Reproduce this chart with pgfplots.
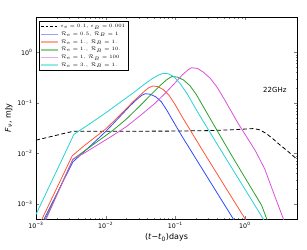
\documentclass[border=0pt]{standalone}
\usepackage{fontspec}
\setmainfont{DejaVu Sans}
\usepackage{pgfplots}
\pgfplotsset{compat=1.18}
\definecolor{cblue}{RGB}{45,75,250}
\definecolor{cred}{RGB}{255,85,55}
\definecolor{cgreen}{RGB}{40,160,40}
\definecolor{cmag}{RGB}{220,80,220}
\definecolor{ccyan}{RGB}{40,210,210}
\begin{document}
\begin{tikzpicture}
\useasboundingbox (-36pt,-30pt) rectangle (271pt,219pt);
\begin{axis}[
  at={(0pt,0pt)}, anchor=south west, scale only axis,
  width=261pt, height=202pt,
  xmode=log, ymode=log,
  xmin=1e-3, xmax=5.6, ymin=5e-4, ymax=5,
  xtick={1e-3,1e-2,1e-1,1},
  xticklabels={10\textsuperscript{−3},10\textsuperscript{−2},10\textsuperscript{−1},10\textsuperscript{0}},
  ytick={1e-3,1e-2,1e-1,1},
  yticklabels={10\textsuperscript{−3},10\textsuperscript{−2},10\textsuperscript{−1},10\textsuperscript{0}},
  tick align=inside, xtick pos=both, ytick pos=both,
  major tick length=3pt, minor tick length=1.5pt,
  ticklabel style={font=\fontsize{6.3}{7}\selectfont},
  axis line style={line width=0.8pt},
  xlabel={(\textit{t}−\textit{t}\textsubscript{0})days},
  ylabel={\textit{F}\textsubscript{\textit{ν}}, mJy},
  label style={font=\fontsize{8}{9}\selectfont},
  xlabel style={yshift=2pt},
  ylabel style={yshift=-2pt},
  legend style={at={(0.0115,0.98)}, anchor=north west, draw=black, line width=0.6pt,
    font=\fontsize{5}{6}\selectfont, inner sep=1pt, row sep=-1.2pt, fill=white},
  legend cell align=left,
  every axis plot/.append style={line width=0.8pt},
]
\addplot[black, dash pattern=on 4pt off 2.5pt, forget plot] coordinates {
(1e-3,1.820e-2) (3.388e-3,2.723e-2) (0.1,2.754e-2) (0.3162,2.818e-2) (0.631,2.917e-2)
(1,3.020e-2) (1.318,3.090e-2) (1.585,2.951e-2) (1.995,2.512e-2) (2.512,1.950e-2)
(3.162,1.479e-2) (3.981,1.148e-2) (5.012,8.71e-3) (5.623,7.586e-3)};
\addplot[cblue, forget plot] coordinates {
(1e-3,2.40e-4) (3.39e-3,6.76e-3) (6.31e-3,1.48e-2) (1e-2,2.69e-2) (1.585e-2,5.248e-2)
(2.239e-2,8.71e-2) (2.818e-2,0.1175) (3.311e-2,0.1413) (3.715e-2,0.1514) (4.365e-2,0.1479)
(5.248e-2,0.1318) (6.31e-2,0.1047) (7.586e-2,7.08e-2) (8.851e-2,4.898e-2) (0.1259,2.138e-2)
(0.3162,2.754e-3) (1,2.138e-4)};
\addplot[cred, forget plot] coordinates {
(1e-3,2.818e-4) (3.311e-3,8.913e-3) (5.012e-3,1.445e-2) (1e-2,3.020e-2) (1.585e-2,5.623e-2)
(2.512e-2,0.1072) (3.548e-2,0.1660) (4.169e-2,0.1995) (4.786e-2,0.2153) (5.623e-2,0.2089)
(6.761e-2,0.1820) (8.128e-2,0.1413) (0.1,9.12e-2) (0.1259,5.248e-2) (0.2512,1.096e-2)
(0.631,1.413e-3) (1.259,3.090e-4)};
\addplot[cgreen, forget plot] coordinates {
(1e-3,1.950e-4) (3.388e-3,7.586e-3) (5.012e-3,1.122e-2) (7.943e-3,1.778e-2) (1.259e-2,2.818e-2)
(1.995e-2,4.786e-2) (3.162e-2,8.913e-2) (4.467e-2,0.1445) (6.026e-2,0.2188) (7.586e-2,0.2884)
(8.913e-2,0.3311) (0.1072,0.3236) (0.1318,0.2818) (0.1622,0.2188) (0.1995,0.1479)
(0.2512,8.511e-2) (0.3133,5.012e-2) (0.631,9.55e-3) (1.259,1.950e-3) (1.738,9.333e-4) (2.291,3.388e-4)};
\addplot[cmag, forget plot] coordinates {
(1e-3,1.778e-4) (3.388e-3,7.586e-3) (5.012e-3,1.023e-2) (7.943e-3,1.514e-2) (1.259e-2,2.239e-2)
(1.995e-2,3.388e-2) (3.162e-2,5.623e-2) (5.012e-2,9.55e-2) (7.079e-2,0.1514) (0.1,0.2512)
(0.1259,0.3548) (0.1514,0.4467) (0.1714,0.4955) (0.2089,0.4786) (0.2512,0.4074)
(0.3162,0.3090) (0.3981,0.2042) (0.5012,0.1202) (0.631,6.918e-2) (0.7943,3.981e-2)
(1,2.399e-2) (1.413,1.122e-2) (1.928,4.898e-3) (2.512,1.820e-3) (3.548,5.129e-4) (4.169,2.818e-4)};
\addplot[ccyan, forget plot] coordinates {
(1e-3,6.166e-4) (3.508e-3,2.377e-2) (6.31e-3,4.074e-2) (1e-2,6.31e-2) (1.585e-2,0.1)
(2.512e-2,0.1585) (3.548e-2,0.2291) (4.677e-2,0.3020) (5.754e-2,0.3548) (6.761e-2,0.3837)
(7.943e-2,0.3758) (9.55e-2,0.3311) (0.1175,0.2399) (0.1479,0.1514) (0.1862,8.71e-2)
(0.2382,4.898e-2) (0.5012,9.12e-3) (1,1.950e-3) (1.995,4.169e-4)};
% legend entries
\addlegendimage{black, dash pattern=on 2.5pt off 2pt, line width=0.8pt}
\addlegendentry{$\epsilon_e=0.1,\,\epsilon_B=0.001$}
\addlegendimage{cblue, line width=1.6pt, opacity=0.5}
\addlegendentry{$\mathcal{R}_e=0.5,\,\mathcal{R}_B=1$}
\addlegendimage{cred, line width=1.6pt, opacity=0.5}
\addlegendentry{$\mathcal{R}_e=1.,\,\mathcal{R}_B=1.$}
\addlegendimage{cgreen, line width=1.6pt, opacity=0.5}
\addlegendentry{$\mathcal{R}_e=1.,\,\mathcal{R}_B=10.$}
\addlegendimage{cmag, line width=1.6pt, opacity=0.5}
\addlegendentry{$\mathcal{R}_e=1,\,\mathcal{R}_B=100$}
\addlegendimage{ccyan, line width=1.6pt, opacity=0.5}
\addlegendentry{$\mathcal{R}_e=3.,\,\mathcal{R}_B=1.$}
\node[font=\fontsize{7}{8}\selectfont] at (axis cs:2.69,0.177) {22GHz};
\end{axis}
\end{tikzpicture}
\end{document}
